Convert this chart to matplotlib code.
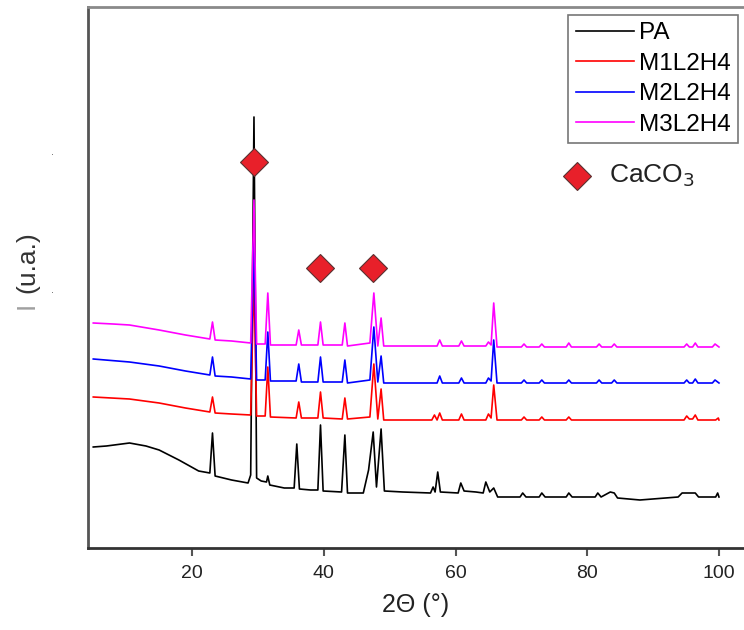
import matplotlib
matplotlib.use("Agg")
import matplotlib.pyplot as plt

plt.rcParams["font.family"] = ["Liberation Sans", "DejaVu Sans"]

# ---------- data (2theta in degrees, intensity in arbitrary units) ----------
pa_tt = [5.0, 7.0, 10.5, 13.0, 15.0, 18.0, 21.0, 22.7, 23.1, 23.5, 26.0, 28.5,
         28.9, 29.4, 29.8, 30.5, 31.3, 31.5, 31.8, 34.0, 35.5, 35.9, 36.3, 38.0,
         39.1, 39.5, 39.9, 42.7, 43.2, 43.6, 46.0, 46.8, 47.5, 48.0, 48.7, 49.2,
         52.0, 56.2, 56.6, 56.9, 57.3, 57.7, 60.4, 60.8, 61.3, 63.1, 64.2, 64.6,
         65.2, 65.8, 66.4, 69.8, 70.2, 70.7, 72.7, 73.1, 73.6, 76.8, 77.2, 77.7,
         81.2, 81.6, 82.1, 83.5, 84.1, 84.6, 88.0, 93.8, 94.4, 96.4, 96.9, 99.5,
         99.8, 100.0]
pa_int = [101, 102, 105, 102, 98, 88, 77, 75, 115, 72, 68, 65,
          73, 431, 70, 67, 66, 72, 63, 60, 60, 104, 59, 58,
          58, 123, 57, 56, 113, 55, 55, 78, 116, 61, 119, 57,
          56, 55, 61, 56, 76, 56, 55, 65, 57, 56, 55, 66,
          56, 60, 51, 51, 55, 51, 51, 55, 51, 51, 55, 51,
          51, 55, 51, 56, 55, 50, 48, 51, 55, 55, 51, 51,
          55, 51]

m1_tt = [5.0, 10.5, 15.0, 19.0, 22.7, 23.1, 23.5, 26.0, 28.9, 29.4, 29.8, 31.1,
         31.5, 31.9, 35.8, 36.2, 36.6, 39.1, 39.5, 39.9, 42.8, 43.2, 43.6, 47.0,
         47.6, 48.2, 48.7, 49.1, 56.4, 56.8, 57.2, 57.6, 58.0, 60.5, 60.9, 61.3,
         64.6, 65.0, 65.4, 65.8, 66.3, 70.0, 70.4, 70.8, 72.7, 73.1, 73.5, 76.8,
         77.2, 77.6, 94.7, 95.1, 95.5, 96.0, 96.4, 96.8, 99.5, 99.9, 100.0]
m1_int = [151, 149, 145, 140, 136, 151, 135, 134, 133, 273, 132, 132,
          181, 131, 130, 146, 130, 130, 156, 130, 129, 150, 129, 131,
          184, 129, 159, 128, 128, 133, 128, 135, 128, 128, 134, 128,
          128, 134, 130, 163, 128, 128, 131, 128, 128, 131, 128, 128,
          131, 128, 128, 132, 129, 129, 133, 128, 128, 130, 128]

m2_tt = [5.0, 10.5, 15.0, 19.0, 22.7, 23.1, 23.5, 26.0, 28.9, 29.4, 29.8, 31.1,
         31.5, 31.9, 35.8, 36.2, 36.6, 39.1, 39.5, 39.9, 42.8, 43.2, 43.6, 47.0,
         47.6, 48.2, 48.7, 49.1, 57.2, 57.6, 58.0, 60.5, 60.9, 61.3, 64.6, 65.0,
         65.4, 65.8, 66.3, 70.0, 70.4, 70.8, 72.7, 73.1, 73.5, 76.8, 77.2, 77.6,
         81.4, 81.8, 82.2, 83.7, 84.1, 84.5, 94.7, 95.1, 95.5, 96.0, 96.4, 96.8,
         99.0, 99.4, 100.0]
m2_int = [189, 186, 182, 177, 173, 191, 172, 171, 169, 308, 168, 168,
          216, 167, 167, 184, 166, 166, 191, 166, 166, 188, 165, 168,
          221, 166, 192, 165, 165, 172, 165, 165, 170, 165, 165, 170,
          167, 208, 165, 165, 168, 165, 165, 168, 165, 165, 168, 165,
          165, 168, 165, 165, 168, 165, 165, 168, 165, 165, 169, 165,
          165, 168, 165]

m3_tt = [5.0, 8.0, 10.5, 15.0, 19.0, 22.7, 23.1, 23.5, 26.0, 28.9, 29.4, 29.8,
         31.1, 31.5, 31.9, 35.8, 36.2, 36.6, 39.1, 39.5, 39.9, 42.8, 43.2, 43.6,
         47.0, 47.6, 48.2, 48.7, 49.1, 57.2, 57.6, 58.0, 60.5, 60.9, 61.3, 64.6,
         65.0, 65.4, 65.8, 66.3, 70.0, 70.4, 70.8, 72.7, 73.1, 73.5, 76.8, 77.2,
         77.6, 81.4, 81.8, 82.2, 83.7, 84.1, 84.5, 94.7, 95.1, 95.5, 96.0, 96.4,
         96.8, 99.0, 99.4, 100.0]
m3_int = [225, 224, 223, 218, 213, 209, 226, 208, 207, 205, 348, 204,
          204, 255, 203, 203, 218, 203, 203, 226, 203, 203, 225, 202,
          205, 255, 202, 230, 202, 202, 208, 202, 202, 207, 202, 202,
          206, 203, 245, 201, 201, 204, 201, 201, 204, 201, 201, 205,
          201, 201, 204, 201, 201, 204, 201, 201, 204, 201, 201, 205,
          201, 201, 204, 201]

caco3_tt = [29.4, 39.5, 47.5]
caco3_mark = [386, 280, 280]

labels = ["PA", "M1L2H4", "M2L2H4", "M3L2H4"]
colors = ["#000000", "#ff0000", "#0000ff", "#ff00ff"]

# ---------- figure ----------
fig = plt.figure(figsize=(7.44, 6.30), dpi=100, facecolor="white")
# right edge of the frame is cut off in the original, axes runs to the border
ax = fig.add_axes([88 / 744, 82 / 630, (744 - 88) / 744, 541 / 630])

series = [(pa_tt, pa_int), (m1_tt, m1_int), (m2_tt, m2_int), (m3_tt, m3_int)]
handles = []
for (tt, inten), lab, col in zip(series, labels, colors):
    ln, = ax.plot(tt, inten, color=col, lw=1.2, label=lab)
    handles.append(ln)

ax.plot(caco3_tt, caco3_mark, linestyle="", marker="D", markersize=14,
        markerfacecolor="#e8202a", markeredgecolor="#5a3030", markeredgewidth=0.8,
        zorder=5)

ax.set_xlim(4.2, 103.8)
ax.set_ylim(0, 541)
ax.set_xticks([20, 40, 60, 80, 100])
ax.set_yticks([])
ax.tick_params(axis="x", direction="out", length=6, width=1.5, color="#555555",
               labelsize=14, pad=6, labelcolor="#222222")

for side in ["left", "bottom", "top"]:
    ax.spines[side].set_linewidth(2)
ax.spines["left"].set_color("#555555")
ax.spines["bottom"].set_color("#333333")
ax.spines["top"].set_color("#8a8a8a")
ax.spines["right"].set_visible(False)

ax.set_xlabel("2\u0398 (\u00b0)", fontsize=18, color="#222222", va="center")
ax.xaxis.set_label_coords(0.5, -(605 - 548) / 541)

# y label, first letter in lighter grey
fig.text(27 / 744, 1 - 305 / 630, "I", rotation=90, fontsize=19,
         color="#a0a0a0", ha="center", va="center")
fig.text(27 / 744, 1 - 262 / 630, "(u.a.)", rotation=90, fontsize=19,
         color="#333333", ha="center", va="center")

# leftover tick dots on the y side
for py in (156, 294):
    fig.text(52 / 744, 1 - py / 630, "\u00b7", fontsize=6, color="#333333",
             ha="center", va="center")

leg = ax.legend(handles=handles, loc="upper right",
                bbox_to_anchor=(738 / 744, 1 - 15 / 630),
                bbox_transform=fig.transFigure, borderaxespad=0,
                fontsize=17.5, frameon=True, fancybox=False, framealpha=1,
                handlelength=2.4, handletextpad=0.2, labelspacing=0.35,
                borderpad=0.3)
leg.get_frame().set_edgecolor("#777777")
leg.get_frame().set_linewidth(1.2)

# CaCO3 marker key
ax.plot([78.4], [372], linestyle="", marker="D", markersize=14,
        markerfacecolor="#e8202a", markeredgecolor="#5a3030", markeredgewidth=0.8,
        clip_on=False)
ax.text(83.3, 372, "CaCO$_3$", fontsize=19, color="#222222", va="center",
        ha="left")

fig.savefig("out.png", dpi=100, facecolor="white")
